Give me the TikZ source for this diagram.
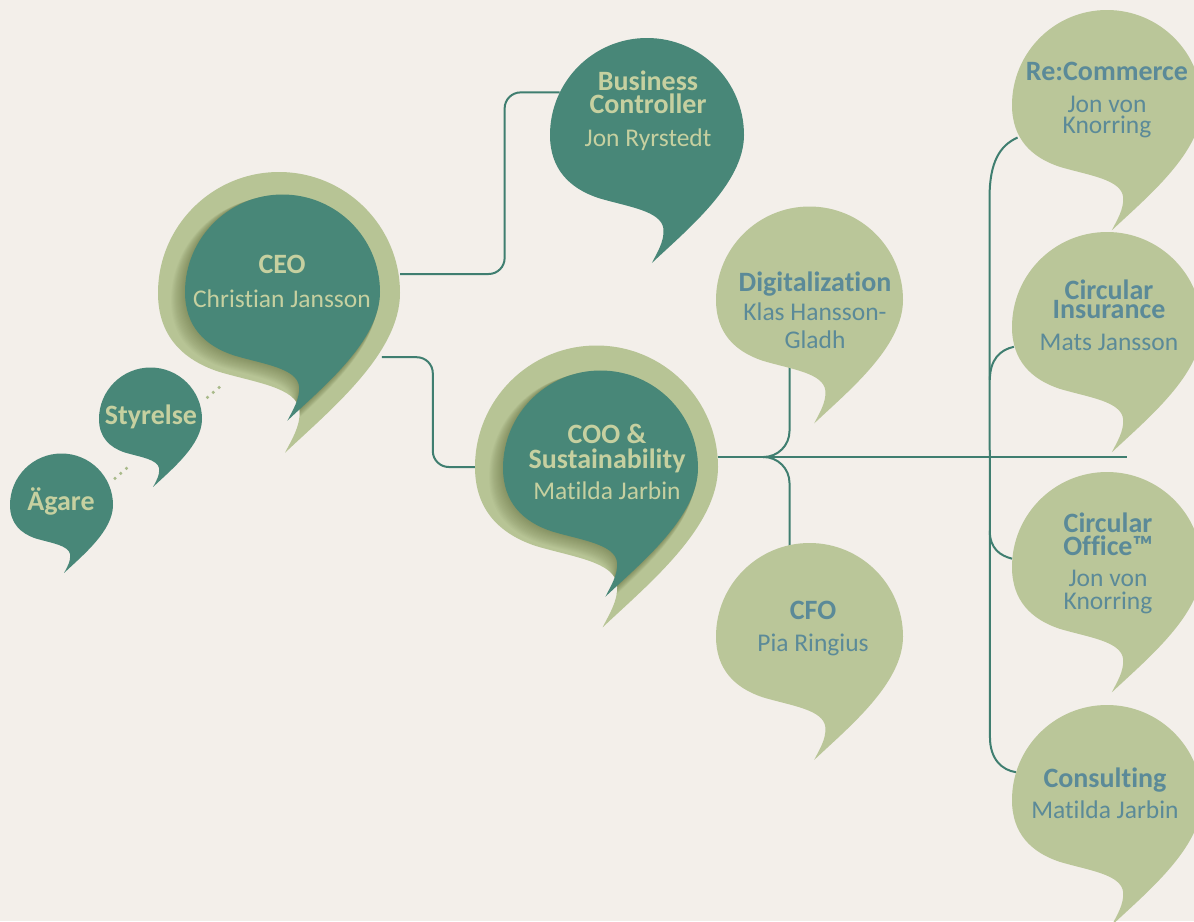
\documentclass[tikz,border=0pt]{standalone}
\usepackage{fontspec}
\setmainfont{Carlito}[Ligatures={NoCommon}]
\usetikzlibrary{calc}
\definecolor{bgc}{HTML}{F3EFEA}
\definecolor{tealc}{HTML}{488778}
\definecolor{greenc}{HTML}{BAC699}
\definecolor{ringc}{HTML}{B7C495}
\definecolor{shadc}{HTML}{5A6434}
\definecolor{linec}{HTML}{3F7E70}
\definecolor{lighttxt}{HTML}{C6D0A0}
\definecolor{bluetxt}{HTML}{5B8A98}
\definecolor{dotc}{HTML}{A9BA8A}
\newcommand\bubpath{(0.05,1.32) .. controls (0.42,0.97) and (1,0.5) .. (1,0) .. controls (1,-0.5523) and (0.5523,-1) .. (0,-1) .. controls (-0.5523,-1) and (-1,-0.5523) .. (-1,0) .. controls (-1,0.35) and (-0.8,0.55) .. (-0.5,0.65) .. controls (-0.2,0.74) and (0.15,0.78) .. (0.17,0.97) .. controls (0.18,1.1) and (0.1,1.22) .. (0.05,1.32) -- cycle}
\newcommand\bub[4]{\fill[#4, shift={(#1,#2)}, scale=#3] \bubpath;}
\newcommand\ringbub[6]{%
  \fill[ringc, shift={(#1,#2)}, scale=#3] \bubpath;
  \begin{scope}
    \clip[shift={(#1,#2)}, scale=#3] \bubpath;
    \foreach \i in {1,...,14}{
      \fill[shadc, opacity=0.04, shift={({#4-0.6*\i},{#5+0.6*\i})}, scale={#6*(1+0.004*\i)}] \bubpath;
    }
  \end{scope}
  \fill[tealc, shift={(#4,#5)}, scale=#6] \bubpath;
}
\newcommand\twoline[3]{\vtop{\baselineskip=#1pt\lineskiplimit=-100pt\halign{\hfil##\hfil\cr #2\cr #3\cr}}}
\tikzset{
  bn/.style={circle, inner sep=0pt, minimum size=#1},
  conn/.style={draw=linec, line width=2pt},
  dotline/.style={draw=dotc, line width=3.5pt, line cap=round, dash pattern=on 0pt off 7.6pt},
  tb/.style={font=\bfseries\fontsize{28}{28}\selectfont, anchor=base, inner sep=0pt},
  tn/.style={font=\fontsize{25.5}{25.5}\selectfont, anchor=base, inner sep=0pt},
  lt/.style={text=lighttxt},
  bt/.style={text=bluetxt}
}
\begin{document}
\begin{tikzpicture}[x=1pt,y=-1pt]
\useasboundingbox (0,0) rectangle (1194,921);
\fill[bgc] (0,0) rectangle (1194,921);

% anchor nodes for bubbles
\node[bn=194pt] (bc) at (647,135) {};
\node[bn=242pt] (ceo) at (279,293) {};
\node[bn=243pt] (coo) at (596.5,467) {};
\node[bn=103pt] (sty) at (150.5,419) {};
\node[bn=103pt] (agare) at (61.5,505) {};
\node[bn=187pt] (dig) at (809.5,300) {};
\node[bn=187pt] (cfo) at (809.5,636.5) {};
\node[bn=190pt] (rc) at (1107,105) {};
\node[bn=190pt] (ci) at (1107,327) {};
\node[bn=190pt] (co) at (1107,567) {};
\node[bn=190pt] (cons) at (1107,800) {};

% connectors
\draw[conn, rounded corners=16pt] ([yshift=19pt]ceo.east) -| ($(bc.154)+(-55,0)$) -- (bc.154);
\draw[conn, rounded corners=16pt] (ceo.-32) -| ($(coo.west)+(-42,0)$) -- (coo.west);
\coordinate (hs) at ([yshift=10pt]coo.east);
\coordinate (hend) at ($(hs)+(409,0)$);
\coordinate (jn) at ($(hs)+(45,0)$);
\draw[conn] (hs) -- (hend);
\draw[conn, rounded corners=26pt] (jn) -| ($(dig)+(-20,0)$);
\draw[conn, rounded corners=26pt] (jn) -| ($(cfo)+(-20,0)$);
\draw[conn] (rc.200) .. controls +(-18,8) and +(0,-35) .. ($(rc.200)+(-28,60)$) -- ($(cons.163)+(-26,-35)$) .. controls +(0,22) and +(-14,-2) .. (cons.163);
\draw[conn] ($(ci.192)+(-24,33)$) .. controls +(0,-20) and +(-14,3) .. (ci.192);
\draw[conn] ($(co.175)+(-22.4,-28)$) .. controls +(0,18) and +(-12,-3) .. (co.175);
\draw[dotline] ($(agare)+(53.5,-26.7)$) -- ($(sty)+(-22.8,48.3)$);
\draw[dotline] ($(sty)+(57,-21.7)$) -- ($(ceo)+(-59.7,94.3)$);

% bubbles
\bub{647}{135}{97}{tealc}
\ringbub{279}{293}{121}{282.5}{292}{97.5}
\ringbub{596.5}{467}{121.5}{600.5}{468}{97.5}
\bub{150.5}{419}{51.5}{tealc}
\bub{61.5}{505}{51.5}{tealc}
\bub{809.5}{300}{93.5}{greenc}
\bub{809.5}{636.5}{93.5}{greenc}
\bub{1107}{105}{95}{greenc}
\bub{1107}{327}{95}{greenc}
\bub{1107}{567}{95}{greenc}
\bub{1107}{800}{95}{greenc}

% texts
\node[tb, lt] (bc-a) at (648,90) {\twoline{23}{Business}{Controller}};
\node[tn, lt] (bc-c) at (648,146) {Jon Ryrstedt};

\node[tb, lt] (ceo-a) at (282,273) {CEO};
\node[tn, lt] (ceo-b) at (282,307) {Christian Jansson};

\node[tb, lt] (coo-a) at (607,443) {\twoline{25}{COO \&}{Sustainability}};
\node[tn, lt] (coo-c) at (607,499) {Matilda Jarbin};

\node[tb, lt] (sty-a) at (151,424) {Styrelse};
\node[tb, lt] (agare-a) at (61,510) {Ägare};

\node[tb, bt] (dig-a) at (815,291) {Digitalization};
\node[tn, bt] (dig-b) at (815,320) {\twoline{28}{Klas Hansson-}{Gladh}};

\node[tb, bt] (cfo-a) at (813,619) {CFO};
\node[tn, bt] (cfo-b) at (813,651) {Pia Ringius};

\node[tb, bt] (rc-a) at (1107,80) {Re:Commerce};
\node[tn, bt] (rc-b) at (1107,112) {\twoline{21.5}{Jon von}{Knorring}};

\node[tb, bt] (ci-a) at (1109,299) {\twoline{19.5}{Circular}{Insurance}};
\node[tn, bt] (ci-c) at (1109,350) {Mats Jansson};

\node[tb, bt] (co-a) at (1108,532) {\twoline{23}{Circular}{Office™}};
\node[tn, bt] (co-c) at (1108,586) {\twoline{23}{Jon von}{Knorring}};

\node[tb, bt] (cons-a) at (1105,787) {Consulting};
\node[tn, bt] (cons-b) at (1105,818) {Matilda Jarbin};
\end{tikzpicture}
\end{document}
